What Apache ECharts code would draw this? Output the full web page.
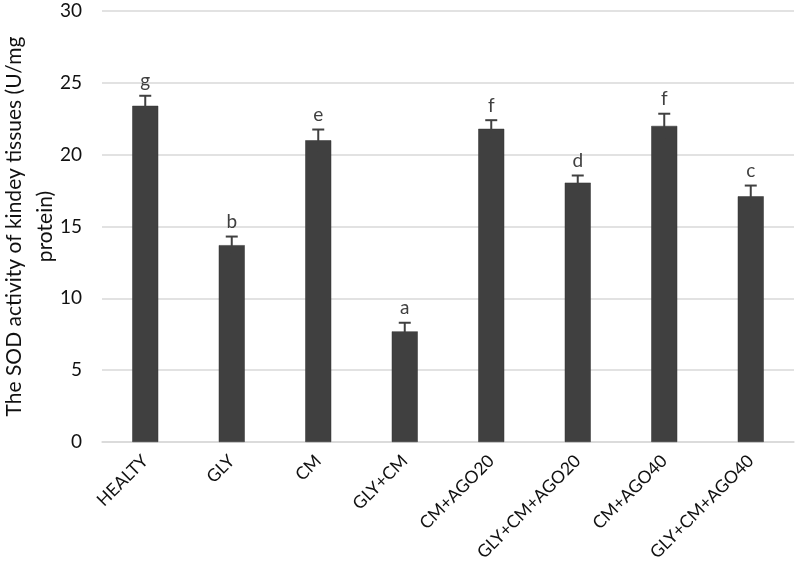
<!DOCTYPE html>
<html>
<head>
<meta charset="utf-8">
<script src="https://cdn.jsdelivr.net/npm/echarts@6/dist/echarts.min.js"></script>
<style>
  html, body { margin: 0; padding: 0; background: #fff; }
  #chart { width: 797px; height: 572px; }
</style>
</head>
<body>
<div id="chart"></div>
<script>
// groups on the x axis
const categories = ["HEALTY", "GLY", "CM", "GLY+CM", "CM+AGO20", "GLY+CM+AGO20", "CM+AGO40", "GLY+CM+AGO40"];
// SOD activity (U/mg protein), mean and error
const means = [23.4, 13.7, 21.0, 7.7, 21.8, 18.05, 22.0, 17.1];
const errors = [0.7, 0.6, 0.75, 0.6, 0.6, 0.5, 0.85, 0.75];
// significance letters
const letters = ["g", "b", "e", "a", "f", "d", "f", "c"];

const FONT = "Lato";
const DARK = "#404040";

const chart = echarts.init(document.getElementById("chart"));

const errData = categories.map((c, i) => [i, means[i], errors[i]]);

function renderErr(params, api) {
  const x = api.value(0);
  const m = api.value(1);
  const e = api.value(2);
  const low = api.coord([x, m - e]);
  const high = api.coord([x, m + e]);
  const cap = 6;
  return {
    type: "group",
    children: [
      {
        type: "line",
        shape: { x1: high[0], y1: low[1], x2: high[0], y2: high[1] },
        style: { stroke: DARK, lineWidth: 2 }
      },
      {
        type: "line",
        shape: { x1: high[0] - cap, y1: high[1], x2: high[0] + cap, y2: high[1] },
        style: { stroke: DARK, lineWidth: 2 }
      },
      {
        type: "text",
        x: high[0],
        y: high[1] - 5,
        style: {
          text: letters[params.dataIndex],
          fill: DARK,
          font: "19px " + FONT,
          align: "center",
          verticalAlign: "bottom"
        }
      }
    ]
  };
}

chart.setOption({
  animation: false,
  backgroundColor: "#fff",
  grid: { left: 102, right: 3, top: 11, bottom: 130, outerBoundsMode: "none" },
  xAxis: {
    type: "category",
    data: categories,
    axisLine: { lineStyle: { color: "#d9d9d9", width: 1.5 } },
    axisTick: { show: false },
    axisLabel: {
      rotate: 45,
      interval: 0,
      margin: 16,
      color: "#111",
      fontFamily: FONT,
      fontSize: 17.5
    }
  },
  yAxis: {
    type: "value",
    min: 0,
    max: 30,
    interval: 5,
    name: "The SOD activity of kindey tissues (U/mg\nprotein)",
    nameLocation: "middle",
    nameRotate: 90,
    nameGap: 41,
    nameMoveOverlap: false,
    nameTextStyle: {
      color: "#111",
      fontFamily: FONT,
      fontSize: 21,
      lineHeight: 31,
      align: "center"
    },
    axisLine: { show: false },
    axisTick: { show: false },
    splitLine: { lineStyle: { color: "#d9d9d9", width: 1.5 } },
    axisLabel: {
      margin: 20,
      color: "#111",
      fontFamily: FONT,
      fontSize: 19
    }
  },
  series: [
    {
      type: "bar",
      data: means,
      barWidth: 26,
      itemStyle: { color: DARK, borderColor: "#333", borderWidth: 0.5 }
    },
    {
      type: "custom",
      renderItem: renderErr,
      data: errData,
      z: 3
    }
  ]
});
</script>
</body>
</html>
